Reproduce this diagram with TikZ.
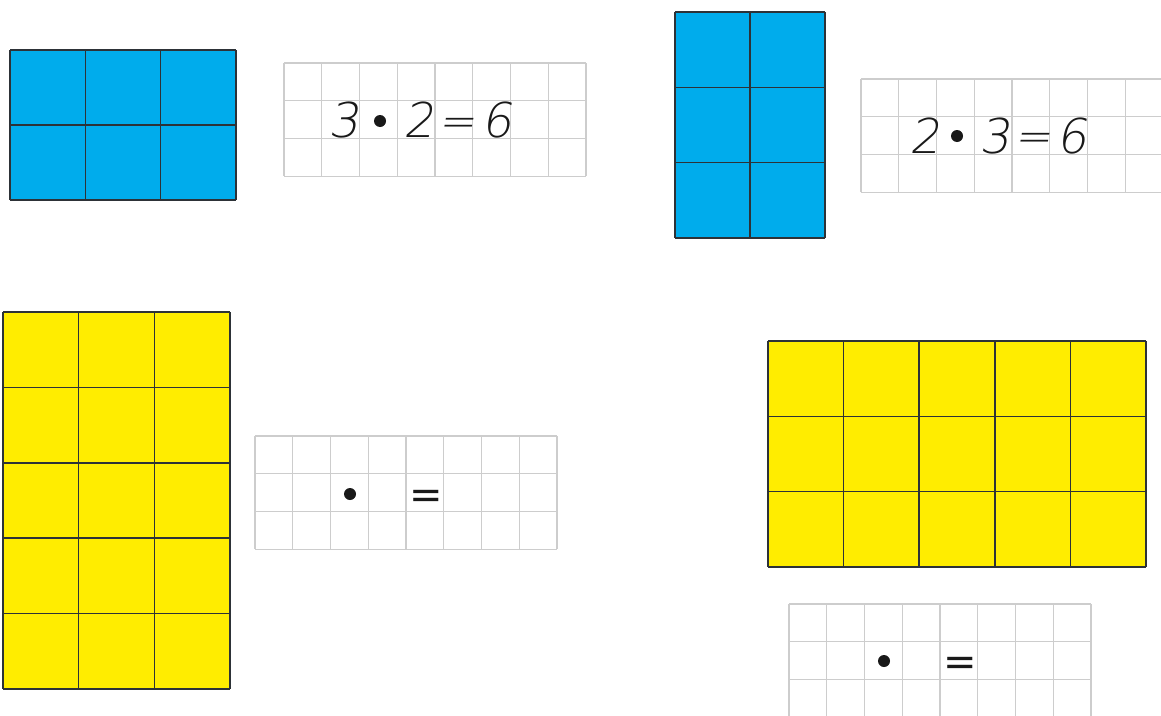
\documentclass[tikz,border=0pt]{standalone}
\usepackage{fontspec}
\newfontfamily\handfont{DejaVu Sans ExtraLight}[FakeSlant=0.18]
\newfontfamily\plainfont{DejaVu Sans}
\definecolor{tileblue}{RGB}{0,172,236}
\definecolor{tileyellow}{RGB}{255,237,0}
\definecolor{gridgray}{RGB}{205,205,205}
\definecolor{tileline}{RGB}{45,50,55}
\tikzset{
  tileline/.style={draw=tileline, line width=1.6pt},
  paperline/.style={draw=gridgray, line width=1.2pt},
  hand/.style={font=\fontsize{48}{48}\handfont, inner sep=0pt, text=black!90, anchor=base},
  handeq/.style={font=\fontsize{44}{44}\handfont, inner sep=0pt, text=black!90},
  blankeq/.style={font=\fontsize{40}{40}\plainfont, inner sep=0pt, text=black!90},
  multdot/.style={circle, fill=black!90, inner sep=0pt, minimum size=12pt},
  paper/.pic={
    \foreach \i in {0,...,8} \draw[paperline] ({\i*37.75},0) -- ++(0,113.25);
    \foreach \j in {0,...,3} \draw[paperline] (0,{\j*37.75}) -- ++(302,0);
  }
}
\begin{document}
\begin{tikzpicture}[x=1pt,y=-1pt]
\clip (0,0) rectangle (1161,715);
\fill[white] (0,0) rectangle (1161,715);

% blue 3x2
\fill[tileblue] (10,50) rectangle (236,200);
\foreach \i in {0,...,3} \draw[tileline] ({10+\i*75.33},50) -- ++(0,150);
\foreach \j in {0,...,2} \draw[tileline] (10,{50+\j*75}) -- ++(226,0);

% blue 2x3
\fill[tileblue] (675,12) rectangle (825,238);
\foreach \i in {0,...,2} \draw[tileline] ({675+\i*75},12) -- ++(0,226);
\foreach \j in {0,...,3} \draw[tileline] (675,{12+\j*75.33}) -- ++(150,0);

% yellow 3x5
\fill[tileyellow] (3,312) rectangle (230,689);
\foreach \i in {0,...,3} \draw[tileline] ({3+\i*75.67},312) -- ++(0,377);
\foreach \j in {0,...,5} \draw[tileline] (3,{312+\j*75.4}) -- ++(227,0);

% yellow 5x3
\fill[tileyellow] (768,341) rectangle (1146,567);
\foreach \i in {0,...,5} \draw[tileline] ({768+\i*75.6},341) -- ++(0,226);
\foreach \j in {0,...,3} \draw[tileline] (768,{341+\j*75.33}) -- ++(378,0);

% grid papers
\pic at (284,63) {paper};
\pic at (861,79) {paper};
\pic at (255,436) {paper};
\pic at (789,604) {paper};

% equation 1
\node[hand] (a3) at (344,137) {3};
\node[multdot] (d1) at (380,121) {};
\node[hand] (a2) at (419,137) {2};
\node[handeq] (e1) at (456.5,127) {=};
\node[hand] (a6) at (497,137) {6};

% equation 2
\node[hand] (b2) at (925,153) {2};
\node[multdot] (d2) at (957,136) {};
\node[hand] (b3) at (995,153) {3};
\node[handeq] (e2) at (1033,142) {=};
\node[hand] (b6) at (1072,153) {6};

% blank equations
\node[multdot] (d3) at (350,494) {};
\node[blankeq] (e3) at (426,499) {=};
\node[multdot] (d4) at (884,661) {};
\node[blankeq] (e4) at (960,666) {=};
\end{tikzpicture}
\end{document}
